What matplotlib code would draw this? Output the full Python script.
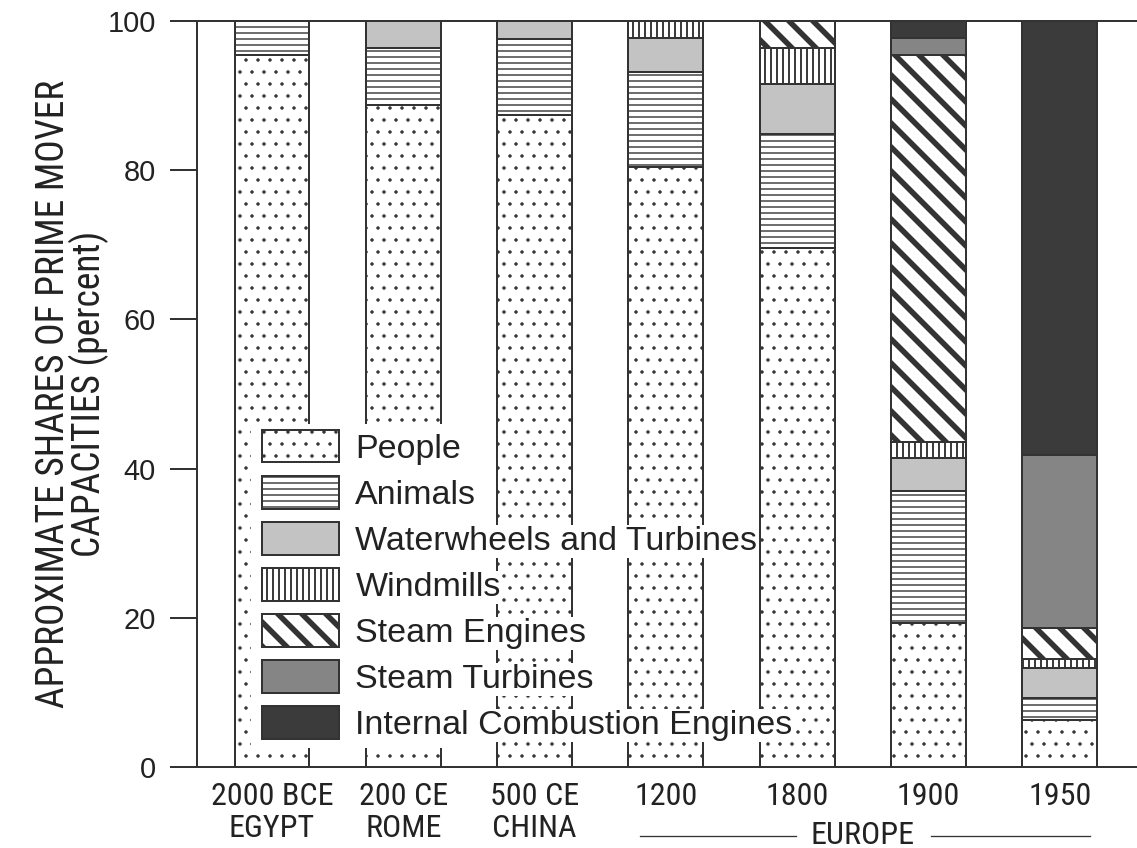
import matplotlib
matplotlib.use("Agg")
import matplotlib.pyplot as plt
import matplotlib.transforms as mtransforms
from matplotlib import font_manager
from matplotlib.patches import Rectangle

# data (percent of prime mover capacity)
categories = ["2000 BCE\nEGYPT", "200 CE\nROME", "500 CE\nCHINA", "1200", "1800", "1900", "1950"]
people = [95.5, 88.7, 87.4, 80.4, 69.6, 19.3, 6.3]
animals = [4.5, 7.7, 10.2, 12.8, 15.2, 17.7, 2.9]
waterwheels = [0, 3.6, 2.4, 4.5, 6.7, 4.4, 4.1]
windmills = [0, 0, 0, 2.3, 4.9, 2.2, 1.2]
steam_engines = [0, 0, 0, 0, 3.6, 51.8, 4.1]
steam_turbines = [0, 0, 0, 0, 0, 2.3, 23.2]
combustion = [0, 0, 0, 0, 0, 2.3, 58.2]

series_names = ["People", "Animals", "Waterwheels and Turbines", "Windmills",
                "Steam Engines", "Steam Turbines", "Internal Combustion Engines"]
series_values = [people, animals, waterwheels, windmills, steam_engines, steam_turbines, combustion]

# style per series: facecolor, hatch, hatch linewidth
styles = [
    ("white", ".", 1.0),
    ("white", "--", 1.4),
    ("#c3c3c3", None, 1.0),
    ("white", "||", 1.9),
    ("white", "\\", 5.5),
    ("#858585", None, 1.0),
    ("#3b3b3b", None, 1.0),
]

# pick a narrow font that is installed
names = {f.name for f in font_manager.fontManager.ttflist}
narrow = None
for fam in ["Roboto Condensed", "Liberation Sans Narrow", "Noto Sans Condensed",
            "Open Sans Condensed", "DejaVu Sans Condensed"]:
    if fam in names:
        narrow = dict(family=[fam, "DejaVu Sans"], stretch="condensed")
        break
if narrow is None:
    narrow = dict(family=["DejaVu Sans"], stretch="condensed")
wide_fallback = narrow["family"][0] in ("DejaVu Sans", "DejaVu Sans Condensed")
xfs = 29 if wide_fallback else 32
yfs = 34 if wide_fallback else 37.5

plt.rcParams["font.family"] = ["Liberation Sans", "DejaVu Sans"]
plt.rcParams["hatch.linewidth"] = 1.4

# dpi 72: one point is one pixel, and the hatch cell is 72 px
dark = "#333333"
fig = plt.figure(figsize=(1137 / 72, 848 / 72), dpi=72)
ax = fig.add_axes([0.1733, 0.0955, 0.8267, 0.8797])

x = list(range(len(categories)))
bottom = [0.0] * len(categories)
handles = []
for name, vals, (fc, hatch, hlw) in zip(series_names, series_values, styles):
    bars = ax.bar(x, vals, width=0.57, bottom=bottom, color=fc, edgecolor=dark,
                  linewidth=2, hatch=hatch, label=name, zorder=2)
    for b in bars:
        if hasattr(b, "set_hatch_linewidth"):
            b.set_hatch_linewidth(hlw)
    handles.append(bars)
    bottom = [b0 + v for b0, v in zip(bottom, vals)]

ax.set_xlim(-0.571, 6.588)
ax.set_ylim(0, 100)
ax.set_yticks([0, 20, 40, 60, 80, 100])
ax.tick_params(axis="y", direction="out", length=27, width=2, color=dark,
               labelsize=29, pad=14, labelcolor="#222222")
ax.set_xticks(x)
ax.set_xticklabels(categories, fontsize=xfs, linespacing=1.14, color="#222222", **narrow)
ax.tick_params(axis="x", length=0, pad=15)
for s in ["left", "top", "bottom"]:
    ax.spines[s].set_linewidth(2)
    ax.spines[s].set_color(dark)
ax.spines["right"].set_visible(False)

# y label, two centered lines
fig.text(72 / 1137, 0.535, "APPROXIMATE SHARES OF PRIME MOVER\nCAPACITIES (percent)",
         rotation=90, ha="center", va="center", fontsize=yfs, linespacing=0.9,
         color="#222222", **narrow)

# EUROPE bracket under the last four bars
trans = mtransforms.blended_transform_factory(ax.transData, ax.transAxes)
ax.text(4.5, -0.092, "EUROPE", transform=trans, ha="center", va="center",
        fontsize=xfs, color="#222222", clip_on=False, **narrow)
ax.plot([2.80, 3.99], [-0.092, -0.092], transform=trans, color=dark, lw=1.3, clip_on=False)
ax.plot([5.02, 6.23], [-0.092, -0.092], transform=trans, color=dark, lw=1.3, clip_on=False)

# white area behind the legend swatches
ax.add_patch(Rectangle((0.057, 0.025), 0.22, 0.435, transform=ax.transAxes,
                       facecolor="white", edgecolor="none", zorder=4))

leg = ax.legend(handles=handles, loc="upper left", bbox_to_anchor=(0.069, 0.452),
                frameon=False, fontsize=34, handlelength=2.28, handleheight=1.1,
                handletextpad=0.47, labelspacing=0.33, borderpad=0, borderaxespad=0)
leg.set_zorder(5)
for t in leg.get_texts():
    t.set_color("#222222")
    t.set_bbox(dict(facecolor="white", edgecolor="none", pad=1))
for h, (fc, hatch, hlw) in zip(leg.legend_handles, styles):
    h.set_linewidth(2)
    h.set_edgecolor(dark)
    if hasattr(h, "set_hatch_linewidth"):
        h.set_hatch_linewidth(hlw)

fig.savefig("out.png", dpi=72)
